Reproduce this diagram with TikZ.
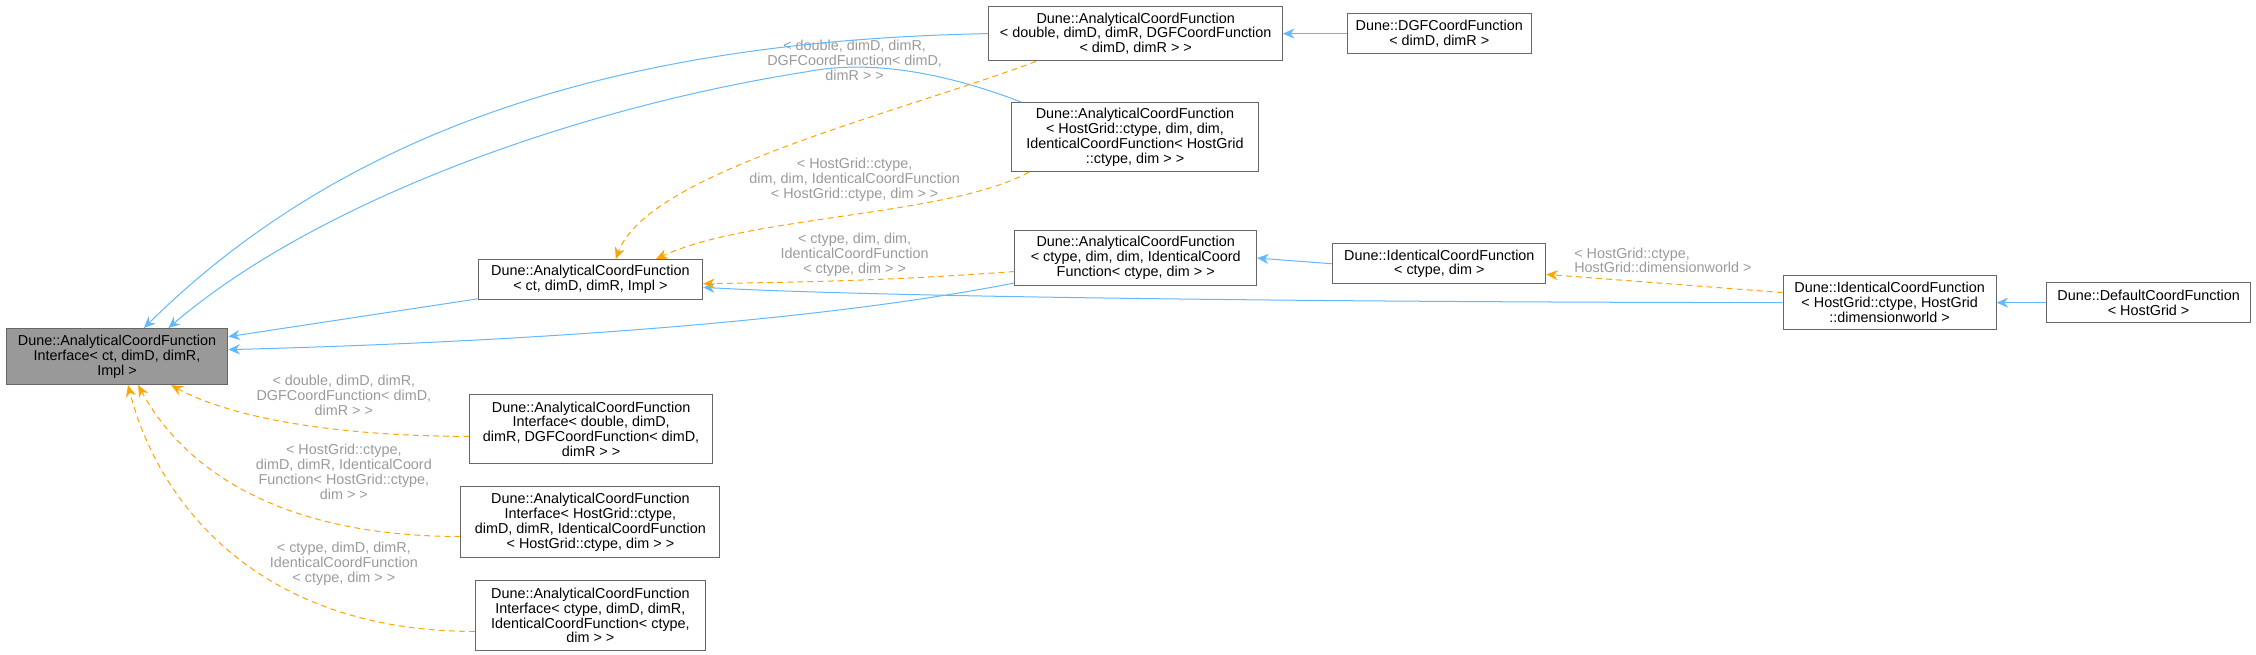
\documentclass[tikz,border=0pt]{standalone}
\usepackage{fontspec}
\setmainfont{Liberation Sans}
\usetikzlibrary{arrows.meta,calc}
\definecolor{eblue}{HTML}{63B8FF}
\definecolor{eorange}{HTML}{FFA500}
\definecolor{lgray}{HTML}{9A9A9A}
\definecolor{bgray}{HTML}{666666}
\begin{document}
\begin{tikzpicture}[x=1pt,y=-1pt,
  cls/.style={draw=bgray,fill=white,anchor=north west,inner sep=0pt,align=center,
    font=\fontsize{10}{10.3}\selectfont,line width=0.7pt},
  solidedge/.style={draw=eblue,line width=0.7pt,-{Stealth[length=8pt,width=7pt]}},
  dashedge/.style={draw=eorange,line width=0.7pt,dashed,dash pattern=on 4pt off 3pt,-{Stealth[length=8pt,width=7pt]}},
  lab/.style={text=lgray,align=center,font=\fontsize{10}{10.3}\selectfont,inner sep=0pt}]
\useasboundingbox (0,0) rectangle (1568,455);
\node[cls,fill=gray!80,minimum width=154pt,minimum height=39pt] (A) at (4,228) {Dune::AnalyticalCoordFunction\\Interface< ct, dimD, dimR,\\Impl >};
\node[cls,minimum width=156pt,minimum height=28pt] (B) at (332,180) {Dune::AnalyticalCoordFunction\\< ct, dimD, dimR, Impl >};
\node[cls,minimum width=204pt,minimum height=38pt] (C) at (687,4) {Dune::AnalyticalCoordFunction\\< double, dimD, dimR, DGFCoordFunction\\< dimD, dimR > >};
\node[cls,minimum width=128pt,minimum height=28pt] (D) at (936,9) {Dune::DGFCoordFunction\\< dimD, dimR >};
\node[cls,minimum width=171pt,minimum height=48pt] (E) at (703,71) {Dune::AnalyticalCoordFunction\\< HostGrid::ctype, dim, dim,\\IdenticalCoordFunction< HostGrid\\::ctype, dim > >};
\node[cls,minimum width=168pt,minimum height=38pt] (F) at (705,160) {Dune::AnalyticalCoordFunction\\< ctype, dim, dim, IdenticalCoord\\Function< ctype, dim > >};
\node[cls,minimum width=148pt,minimum height=28pt] (G) at (926,169) {Dune::IdenticalCoordFunction\\< ctype, dim >};
\node[cls,minimum width=148pt,minimum height=38pt] (H) at (1239,191) {Dune::IdenticalCoordFunction\\< HostGrid::ctype, HostGrid\\::dimensionworld >};
\node[cls,minimum width=142pt,minimum height=28pt] (I) at (1422,196) {Dune::DefaultCoordFunction\\< HostGrid >};
\node[cls,minimum width=169pt,minimum height=48pt] (J) at (326,274) {Dune::AnalyticalCoordFunction\\Interface< double, dimD,\\dimR, DGFCoordFunction< dimD,\\dimR > >};
\node[cls,minimum width=180pt,minimum height=49pt] (K) at (320,338) {Dune::AnalyticalCoordFunction\\Interface< HostGrid::ctype,\\dimD, dimR, IdenticalCoordFunction\\< HostGrid::ctype, dim > >};
\node[cls,minimum width=160pt,minimum height=49pt] (L) at (330,403) {Dune::AnalyticalCoordFunction\\Interface< ctype, dimD, dimR,\\IdenticalCoordFunction< ctype,\\dim > >};
% labels
\node[lab] (l1) at (594,42) {< double, dimD, dimR,\\DGFCoordFunction< dimD,\\dimR > >};
\node[lab] (l2) at (594,125) {< HostGrid::ctype,\\dim, dim, IdenticalCoordFunction\\< HostGrid::ctype, dim > >};
\node[lab] (l3) at (594,177) {< ctype, dim, dim,\\IdenticalCoordFunction\\< ctype, dim > >};
\node[lab,anchor=west,align=left] (l4) at (1094,181) {< HostGrid::ctype,\\HostGrid::dimensionworld >};
\node[lab] (l5) at (239,275) {< double, dimD, dimR,\\DGFCoordFunction< dimD,\\dimR > >};
\node[lab] (l6) at (239,328) {< HostGrid::ctype,\\dimD, dimR, IdenticalCoord\\Function< HostGrid::ctype,\\dim > >};
\node[lab] (l7) at (239,392) {< ctype, dimD, dimR,\\IdenticalCoordFunction\\< ctype, dim > >};
% solid edges
\draw[solidedge] (D.west) -- (C.east);
\draw[solidedge] (G.west) -- (F.east);
\draw[solidedge] (I.west) -- (H.east);
\draw[solidedge] (H.west) .. controls (900,210) and (600,206) .. ($(B.south east)+(0,-9)$);
\draw[solidedge] ($(B.south west)+(0,-1)$) -- ($(A.north east)+(0,6)$);
\draw[solidedge] ($(F.south west)+(0,-2)$) .. controls (560,225) and (350,238) .. ($(A.north east)+(0,15)$);
\draw[solidedge] ($(C.west)+(0,0)$) .. controls (450,28) and (250,80) .. ($(A.north west)+(96,0)$);
\draw[solidedge] ($(E.north west)+(7,0)$) .. controls (650,48) and (600,42) .. (560,50) .. controls (400,75) and (220,140) .. ($(A.north west)+(113,0)$);
% dashed edges
\draw[dashedge] ($(C.south west)+(33,0)$) .. controls (620,80) and (450,120) .. ($(B.north west)+(96,0)$);
\draw[dashedge] ($(E.south west)+(12,0)$) .. controls (660,150) and (520,150) .. ($(B.north west)+(124,0)$);
\draw[dashedge] ($(F.south west)+(0,-10)$) .. controls (620,195) and (560,196) .. ($(B.south east)+(0,-11.5)$);
\draw[dashedge] ($(H.west)+(0,-7)$) -- ($(G.south east)+(0,-7)$);
\draw[dashedge] ($(J.west)+(0,5)$) .. controls (230,303) and (160,290) .. ($(A.south west)+(115,0)$);
\draw[dashedge] ($(K.west)+(0,10)$) .. controls (200,373) and (130,330) .. ($(A.south west)+(92,0)$);
\draw[dashedge] ($(L.west)+(0,11)$) .. controls (180,439) and (110,350) .. ($(A.south west)+(85,0)$);
\end{tikzpicture}
\end{document}
